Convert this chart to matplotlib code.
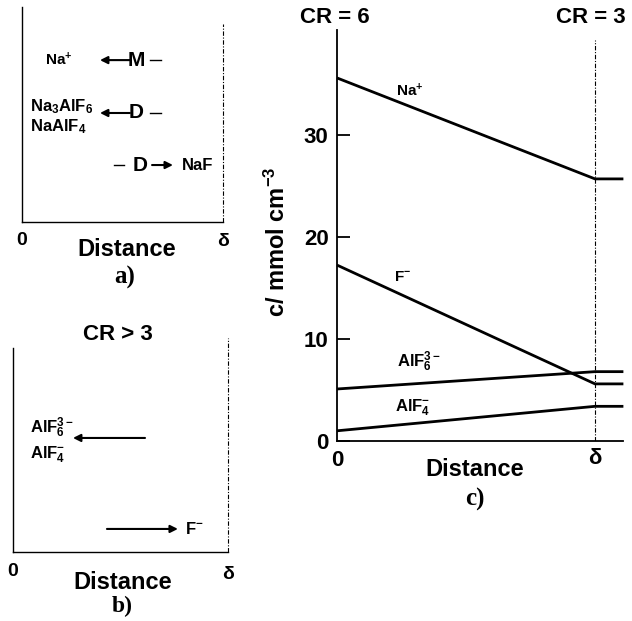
import matplotlib
matplotlib.use("Agg")
import matplotlib.pyplot as plt

plt.rcParams["font.family"] = ["Liberation Sans", "DejaVu Sans"]
plt.rcParams["font.weight"] = "bold"
plt.rcParams["mathtext.fontset"] = "custom"
plt.rcParams["mathtext.rm"] = "Liberation Sans:bold"
plt.rcParams["mathtext.it"] = "Liberation Sans:bold"
plt.rcParams["mathtext.bf"] = "Liberation Sans:bold"
plt.rcParams["mathtext.sf"] = "Liberation Sans:bold"

# ---------------------------------------------------------
# Donnees : panneau c) profils de concentration (mmol cm-3)
# ---------------------------------------------------------
distance = [0.0, 1.0, 1.11]          # 0 -> delta, puis au-dela
c_na = [35.6, 25.7, 25.7]
c_f = [17.25, 5.6, 5.6]
c_alf6 = [5.1, 6.8, 6.8]
c_alf4 = [1.0, 3.4, 3.4]
yticks_c = [0, 10, 20, 30]

# panneau a) : flux schematiques (fraction de delta)
a_labels = ["Na$^{+}$", "Na$_3$AlF$_6$", "NaAlF$_4$", "NaF"]
a_mech = ["M", "D", "D"]
a_rows_y = [0.753, 0.507, 0.265]
a_arrow_tail = [0.527, 0.527, 0.647]
a_arrow_tip = [0.388, 0.388, 0.751]

# panneau b)
b_labels = ["AlF$_6^{3-}$", "AlF$_4^{-}$", "F$^{-}$"]
b_arrow_tail = [0.614, 0.437]
b_arrow_tip = [0.279, 0.767]
b_arrow_y = [0.559, 0.113]

fig = plt.figure(figsize=(6.32, 6.21), dpi=100)
W, H = 632.0, 621.0


def add_ax(left, right, bottom, top):
    return fig.add_axes([left / W, 1 - bottom / H, (right - left) / W, (bottom - top) / H])


def style_schema(ax):
    ax.set_xlim(0, 1)
    ax.set_ylim(0, 1)
    for s in ["top", "right"]:
        ax.spines[s].set_visible(False)
    for s in ["left", "bottom"]:
        ax.spines[s].set_linewidth(1.0)
    ax.set_xticks([])
    ax.set_yticks([])
    ax.patch.set_alpha(0)


dash = (0, (4, 1.5, 1, 1.5))
arrow_kw = dict(arrowstyle="-|>", color="k", lw=1.5, mutation_scale=11, shrinkA=0, shrinkB=0)

# ---------------------------------------------------------
# a)
# ---------------------------------------------------------
ax = add_ax(22, 223, 222, 7)
style_schema(ax)
ax.plot([1, 1], [0, 0.921], color="k", lw=0.8, linestyle=dash, clip_on=False)
ax.text(0.114, a_rows_y[0], a_labels[0], fontsize=11, ha="left", va="center")
ax.text(0.04, 0.535, a_labels[1], fontsize=12, ha="left", va="center")
ax.text(0.04, 0.442, a_labels[2], fontsize=12, ha="left", va="center")
ax.text(0.796, a_rows_y[2], a_labels[3], fontsize=12, ha="left", va="center")
for i in range(2):
    y = a_rows_y[i]
    ax.annotate("", xy=(a_arrow_tip[i], y), xytext=(a_arrow_tail[i] + 0.01, y), arrowprops=arrow_kw)
    ax.text(0.567, y, a_mech[i], fontsize=15, ha="center", va="center")
    ax.plot([0.637, 0.69], [y, y], color="k", lw=1.0)
y = a_rows_y[2]
ax.plot([0.458, 0.507], [y, y], color="k", lw=1.0)
ax.text(0.587, y, a_mech[2], fontsize=15, ha="center", va="center")
ax.annotate("", xy=(a_arrow_tip[2], y), xytext=(a_arrow_tail[2], y), arrowprops=arrow_kw)
ax.text(0, -0.084, "0", fontsize=14, ha="center", va="center")
ax.text(1, -0.09, "δ", fontsize=14, ha="center", va="center")
ax.text(0.522, -0.13, "Distance", fontsize=17, ha="center", va="center")
ax.text(0.51, -0.256, "a)", fontsize=18, family="Liberation Serif", ha="center", va="center")

# ---------------------------------------------------------
# b)
# ---------------------------------------------------------
ax = add_ax(13, 228, 552, 348)
style_schema(ax)
ax.plot([1, 1], [0, 1.05], color="k", lw=0.8, linestyle=dash, clip_on=False)
ax.text(0.488, 1.064, "CR > 3", fontsize=16, ha="center", va="center")
ax.text(0.079, 0.608, b_labels[0], fontsize=12, ha="left", va="center")
ax.text(0.079, 0.475, b_labels[1], fontsize=12, ha="left", va="center")
ax.text(0.80, b_arrow_y[1], b_labels[2], fontsize=12, ha="left", va="center")
for tail, tip, y in zip(b_arrow_tail, b_arrow_tip, b_arrow_y):
    ax.annotate("", xy=(tip, y), xytext=(tail, y), arrowprops=arrow_kw)
ax.text(0, -0.098, "0", fontsize=14, ha="center", va="center")
ax.text(1, -0.11, "δ", fontsize=14, ha="center", va="center")
ax.text(0.51, -0.15, "Distance", fontsize=17, ha="center", va="center")
ax.text(0.51, -0.215, "b)", fontsize=17, family="Liberation Serif", ha="center", va="top")

# ---------------------------------------------------------
# c)
# ---------------------------------------------------------
ax = add_ax(337, 623, 441, 30)
ax.patch.set_alpha(0)
ax.set_xlim(0, 1.1085)
ax.set_ylim(0, 40.3)
for s in ["top", "right"]:
    ax.spines[s].set_visible(False)
for s in ["left", "bottom"]:
    ax.spines[s].set_linewidth(1.3)
for serie in [c_na, c_f, c_alf6, c_alf4]:
    ax.plot(distance, serie, color="k", lw=2.0, clip_on=False, solid_capstyle="butt")
ax.plot([1, 1], [0, 39.3], color="k", lw=0.8, linestyle=dash)
ax.set_xticks([])
ax.set_yticks(yticks_c)
ax.set_yticklabels([str(v) for v in yticks_c], fontsize=16)
ax.tick_params(axis="y", direction="in", length=9, width=1.3, pad=6)
ax.text(-0.21, 19.5, "c/ mmol cm$^{-3}$", fontsize=17, rotation=90, ha="center", va="center",
        transform=ax.get_yaxis_transform())
ax.text(-0.008, 41.5, "CR = 6", fontsize=16, ha="center", va="center")
ax.text(0.984, 41.5, "CR = 3", fontsize=16, ha="center", va="center")
ax.text(0.283, 34.4, "Na$^{+}$", fontsize=11, ha="center", va="center")
ax.text(0.256, 16.1, "F$^{-}$", fontsize=11, ha="center", va="center")
ax.text(0.318, 7.75, "AlF$_6^{3-}$", fontsize=12, ha="center", va="center")
ax.text(0.295, 3.3, "AlF$_4^{-}$", fontsize=12, ha="center", va="center")
ax.text(0, -1.9, "0", fontsize=16, ha="center", va="center")
ax.text(1, -1.7, "δ", fontsize=16, ha="center", va="center")
ax.text(0.535, -2.84, "Distance", fontsize=17, ha="center", va="center")
ax.text(0.535, -5.7, "c)", fontsize=18, family="Liberation Serif", ha="center", va="center")

fig.savefig("out.png", dpi=100)
